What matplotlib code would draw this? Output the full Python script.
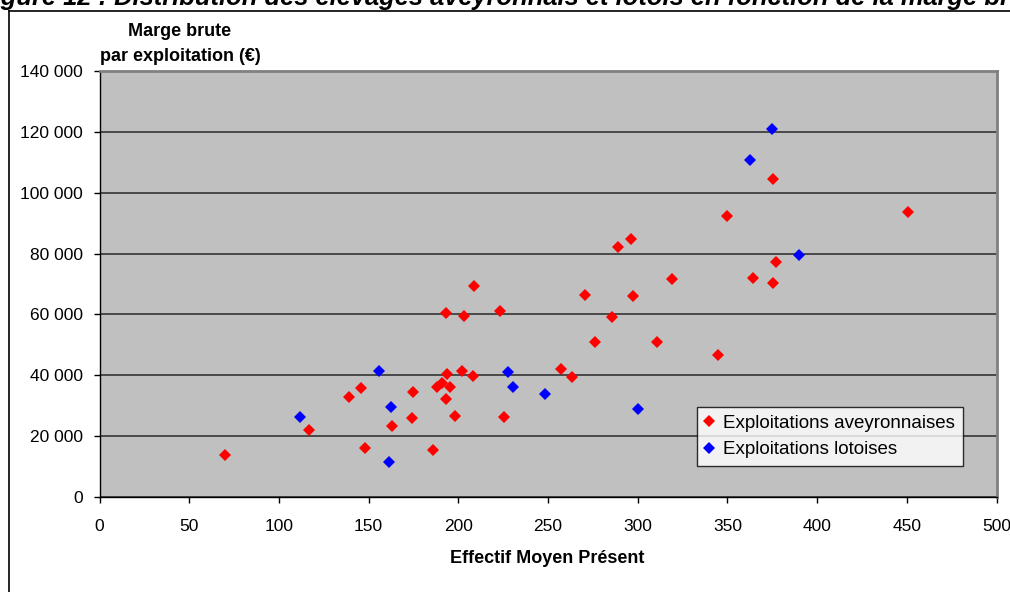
import matplotlib
matplotlib.use("Agg")
import matplotlib.pyplot as plt
from matplotlib.ticker import FuncFormatter, MultipleLocator
from matplotlib.lines import Line2D

plt.rcParams['font.family'] = ['Liberation Sans', 'DejaVu Sans']

# Effectif moyen présent / marge brute par exploitation (EUR)
aveyron_effectif = [70, 117, 139, 146, 148, 163, 174, 175, 186, 188, 191, 193,
                    193.5, 193, 195.5, 198, 202, 203, 208, 208.5, 223, 225.5,
                    257, 263.5, 270.5, 276, 285.5, 289, 296, 297.5, 311, 319,
                    345, 349.5, 364, 375.5, 375.5, 377, 450.5]
aveyron_marge = [13800, 22100, 33000, 35900, 16200, 23400, 25900, 34600, 15400,
                 36200, 37600, 32200, 40300, 60600, 36200, 26500, 41500, 59500,
                 39900, 69400, 61100, 26200, 42200, 39400, 66300, 51000, 59200,
                 82300, 84700, 66000, 51000, 71500, 46700, 92300, 71900, 104400,
                 70300, 77100, 93600]

lot_effectif = [111.5, 156, 162.5, 161.5, 227.5, 230.5, 248.5, 300, 362.5, 375, 390]
lot_marge = [26200, 41500, 29500, 11400, 41000, 36200, 33800, 29000, 110800,
             120800, 79500]

series_labels = ["Exploitations aveyronnaises", "Exploitations lotoises"]
title_text = ("Figure 12 : Distribution des élevages aveyronnais et lotois "
              "en fonction de la marge brute")
y_title = ["Marge brute", "par exploitation (€)"]
x_title = "Effectif Moyen Présent"

W, H = 1010, 592
fig = plt.figure(figsize=(W / 100, H / 100), dpi=100)
fig.patch.set_facecolor("white")

ax = fig.add_axes([99.5 / W, 1 - 497 / H, (996.5 - 99.5) / W, (497 - 71) / H])
ax.set_facecolor("#C0C0C0")

ax.plot(aveyron_effectif, aveyron_marge, linestyle="none", marker="D",
        markersize=6.0, markeredgewidth=0, color="#FF0000", label=series_labels[0],
        zorder=3)
ax.plot(lot_effectif, lot_marge, linestyle="none", marker="D",
        markersize=6.0, markeredgewidth=0, color="#0000FF", label=series_labels[1],
        zorder=4)

ax.set_xlim(0, 500)
ax.set_ylim(0, 140000)
ax.xaxis.set_major_locator(MultipleLocator(50))
ax.yaxis.set_major_locator(MultipleLocator(20000))

def thousands(v, pos):
    return f"{int(round(v)):,}".replace(",", " ")

ax.yaxis.set_major_formatter(FuncFormatter(thousands))
ax.xaxis.set_major_formatter(FuncFormatter(lambda v, p: f"{int(v)}"))

ax.grid(axis="y", color="#404040", linewidth=1.3, zorder=1)
ax.set_axisbelow(True)

for side in ("left", "bottom"):
    ax.spines[side].set_color("black")
    ax.spines[side].set_linewidth(1.0)
for side in ("top", "right"):
    ax.spines[side].set_color("#808080")
    ax.spines[side].set_linewidth(2.0)

ax.tick_params(axis="both", direction="out", length=4, width=1, color="black",
               labelsize=12.5, labelcolor="black")
ax.tick_params(axis="y", pad=8)
ax.tick_params(axis="x", pad=12)

# axis titles
fig.text(180 / W, 1 - 36 / H, y_title[0], ha="center", va="baseline",
         fontsize=13, fontweight="bold")
fig.text(180.5 / W, 1 - 61 / H, y_title[1], ha="center", va="baseline",
         fontsize=13, fontweight="bold")
fig.text(547 / W, 1 - 563 / H, x_title, ha="center", va="baseline",
         fontsize=13, fontweight="bold")

# legend
leg = fig.legend(loc="upper left", bbox_to_anchor=(697 / W, 1 - 407 / H),
                 fontsize=13.5, frameon=True, fancybox=False, shadow=False,
                 borderpad=0.4, labelspacing=0.5, handlelength=0.5,
                 handletextpad=0.5, borderaxespad=0, markerscale=1.0)
leg.get_frame().set_edgecolor("black")
leg.get_frame().set_linewidth(1.0)
leg.get_frame().set_facecolor("white")

# chart frame and page title (partly above the visible area)
fig.add_artist(Line2D([9 / W, 9 / W], [0, 1 - 11 / H], color="black",
                      linewidth=1.2, transform=fig.transFigure))
fig.add_artist(Line2D([9 / W, 1], [1 - 11 / H, 1 - 11 / H], color="black",
                      linewidth=1.2, transform=fig.transFigure))
fig.text(-22 / W, 1 - 5 / H, title_text, ha="left", va="baseline",
         fontsize=18.4, fontweight="bold", fontstyle="italic")

fig.savefig("out.png", dpi=100)
